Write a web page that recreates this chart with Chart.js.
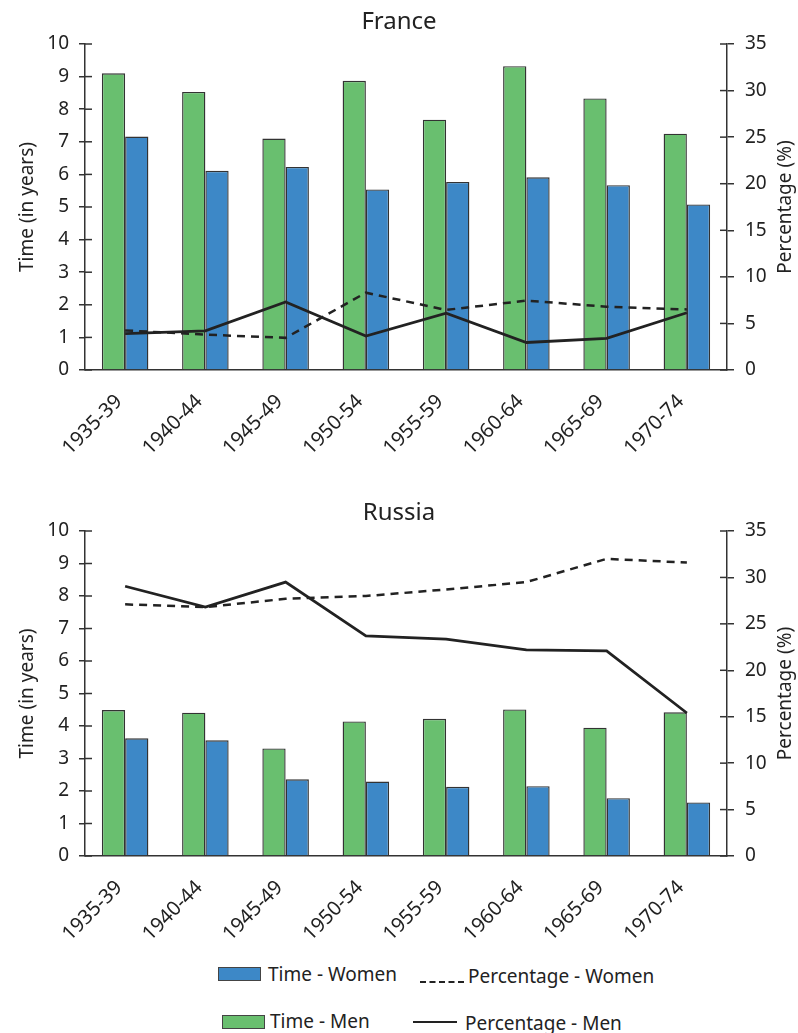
<!DOCTYPE html>
<html>
<head>
<meta charset="utf-8">
<script src="https://cdn.jsdelivr.net/npm/chart.js@4.4.1/dist/chart.umd.min.js"></script>
<style>
  body { margin: 0; background: #fff; font-family: "Noto Sans", sans-serif; color: #222; }
  #wrap { position: relative; width: 798px; height: 1033px; }
  .box { position: absolute; left: 0; width: 798px; }
  .leg { position: absolute; font-size: 19px; line-height: 1; white-space: nowrap; }
  .sw { position: absolute; height: 12px; width: 41px; border: 1px solid #444; }
  .ln { position: absolute; width: 44px; height: 0; }
</style>
</head>
<body>
<div id="wrap">
  <div class="box" style="top:0;height:480px"><canvas id="france"></canvas></div>
  <div class="box" style="top:485px;height:475px"><canvas id="russia"></canvas></div>

  <div class="sw" style="left:218px;top:967px;background:#3d88c7"></div>
  <div class="leg" style="left:268px;top:965px">Time - Women</div>
  <div class="ln" style="left:420px;top:981px;border-top:2.5px dashed #222"></div>
  <div class="leg" style="left:468px;top:967px">Percentage - Women</div>

  <div class="sw" style="left:222px;top:1015px;background:#69bf6f"></div>
  <div class="leg" style="left:270px;top:1012px">Time - Men</div>
  <div class="ln" style="left:413px;top:1021px;border-top:2.5px solid #222"></div>
  <div class="leg" style="left:465px;top:1014px">Percentage - Men</div>
</div>

<script>
const periodos = ["1935-39", "1940-44", "1945-49", "1950-54", "1955-59", "1960-64", "1965-69", "1970-74"];

// France
const franceTempoHomens = [9.1, 8.53, 7.1, 8.87, 7.68, 9.32, 8.33, 7.25];
const franceTempoMulheres = [7.16, 6.11, 6.23, 5.54, 5.77, 5.91, 5.67, 5.08];
const francePctHomens = [3.9, 4.2, 7.3, 3.65, 6.1, 2.95, 3.4, 6.15];
const francePctMulheres = [4.25, 3.8, 3.45, 8.3, 6.45, 7.45, 6.8, 6.5];

// Russia
const russiaTempoHomens = [4.49, 4.41, 3.31, 4.14, 4.22, 4.51, 3.95, 4.42];
const russiaTempoMulheres = [3.62, 3.56, 2.36, 2.29, 2.13, 2.15, 1.78, 1.65];
const russiaPctHomens = [29.05, 26.8, 29.5, 23.7, 23.35, 22.2, 22.1, 15.4];
const russiaPctMulheres = [27.1, 26.8, 27.7, 28.0, 28.7, 29.5, 32.0, 31.6];

const ticksTempo = [0, 1, 2, 3, 4, 5, 6, 7, 8, 9, 10];
const ticksPct = [0, 5, 10, 15, 20, 25, 30, 35];

const VERDE = "#69bf6f";
const AZUL = "#3d88c7";
const EIXO = "#333";
const FONTE = "'Noto Sans', sans-serif";

Chart.defaults.font.family = FONTE;
Chart.defaults.color = "#222";

// ── Marcas de escala que cruzam o eixo + título do eixo direito ──
const eixosPlugin = {
  id: "eixosExtras",
  afterDraw(chart) {
    const ctx = chart.ctx;
    const area = chart.chartArea;
    ctx.save();
    ctx.strokeStyle = EIXO;
    ctx.lineWidth = 1.5;
    ["y", "y2"].forEach((id) => {
      const s = chart.scales[id];
      const x = id === "y" ? area.left : area.right;
      const dir = id === "y" ? 1 : -1;
      s.ticks.forEach((t, i) => {
        const py = s.getPixelForTick(i);
        ctx.beginPath();
        ctx.moveTo(x, py);
        ctx.lineTo(x + dir * 7, py);
        ctx.stroke();
      });
    });
    ctx.fillStyle = "#222";
    ctx.font = "19px " + FONTE;
    ctx.textAlign = "center";
    ctx.textBaseline = "middle";
    ctx.translate(786, (area.top + area.bottom) / 2);
    ctx.rotate(-Math.PI / 2);
    ctx.fillText("Percentage (%)", 0, 0);
    ctx.restore();
  },
};

function criarGrafico(idCanvas, titulo, tituloPad, alturaX, homens, mulheres, pctH, pctM) {
  const ctx = document.getElementById(idCanvas).getContext("2d");
  return new Chart(ctx, {
    type: "bar",
    data: {
      labels: periodos,
      datasets: [
        {
          label: "Time - Men",
          data: homens,
          backgroundColor: VERDE,
          borderColor: "#333",
          borderWidth: 1.4,
          categoryPercentage: 0.58,
          barPercentage: 1,
          yAxisID: "y",
          order: 2,
        },
        {
          label: "Time - Women",
          data: mulheres,
          backgroundColor: AZUL,
          borderColor: "#333",
          borderWidth: 1.4,
          categoryPercentage: 0.58,
          barPercentage: 1,
          yAxisID: "y",
          order: 2,
        },
        {
          type: "line",
          label: "Percentage - Women",
          data: pctM,
          borderColor: "#222",
          borderWidth: 2.5,
          borderDash: [8, 6],
          pointRadius: 0,
          tension: 0,
          yAxisID: "y2",
          order: 0,
        },
        {
          type: "line",
          label: "Percentage - Men",
          data: pctH,
          borderColor: "#222",
          borderWidth: 2.8,
          pointRadius: 0,
          tension: 0,
          yAxisID: "y2",
          order: 0,
        },
      ],
    },
    options: {
      responsive: true,
      maintainAspectRatio: false,
      animation: false,
      layout: { padding: 0 },
      plugins: {
        legend: { display: false },
        tooltip: { enabled: false },
        title: {
          display: true,
          text: titulo,
          color: "#222",
          font: { size: 24, weight: "normal" },
          padding: tituloPad,
        },
      },
      scales: {
        x: {
          grid: { display: false, drawTicks: false },
          border: { color: EIXO, width: 1.5 },
          ticks: {
            maxRotation: 45,
            minRotation: 45,
            padding: 20,
            labelOffset: -6,
            color: "#222",
            font: { size: 20 },
          },
          afterFit(s) { s.height = alturaX; },
        },
        y: {
          position: "left",
          min: 0,
          max: 10,
          afterBuildTicks(s) { s.ticks = ticksTempo.map((v) => ({ value: v })); },
          grid: { drawOnChartArea: false, tickLength: 6, color: EIXO, lineWidth: 1.5 },
          border: { color: EIXO, width: 1.5 },
          ticks: { padding: 10, color: "#222", font: { size: 19 } },
          title: {
            display: true,
            text: "Time (in years)",
            color: "#222",
            font: { size: 19 },
            padding: { top: 16, bottom: 0 },
          },
          afterFit(s) { s.width = 85; },
        },
        y2: {
          position: "right",
          min: 0,
          max: 35,
          afterBuildTicks(s) { s.ticks = ticksPct.map((v) => ({ value: v })); },
          grid: { drawOnChartArea: false, tickLength: 7, color: EIXO, lineWidth: 1.5 },
          border: { color: EIXO, width: 1.5 },
          ticks: { padding: 11, color: "#222", font: { size: 19 } },
          afterFit(s) { s.width = 71; },
        },
      },
    },
    plugins: [eixosPlugin],
  });
}

criarGrafico("france", "France", { top: 7.6, bottom: 7.6 }, 110,
  franceTempoHomens, franceTempoMulheres, francePctHomens, francePctMulheres);
criarGrafico("russia", "Russia", { top: 13.6, bottom: 3.6 }, 104,
  russiaTempoHomens, russiaTempoMulheres, russiaPctHomens, russiaPctMulheres);
</script>
</body>
</html>
